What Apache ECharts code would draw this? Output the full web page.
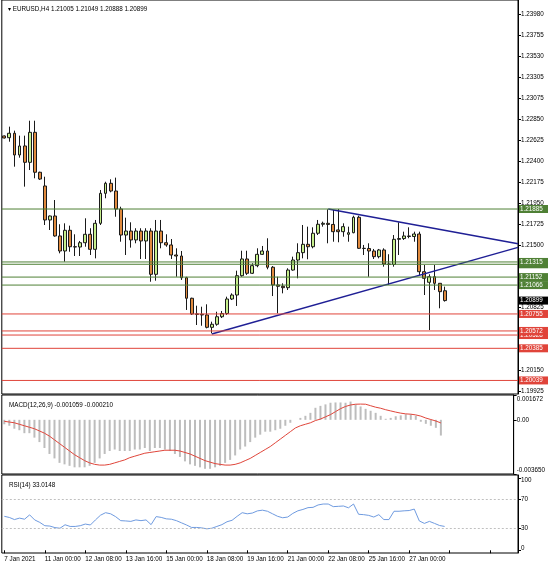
<!DOCTYPE html>
<html>
<head>
<meta charset="utf-8">
<script src="https://cdn.jsdelivr.net/npm/echarts@6/dist/echarts.min.js"></script>
<style>
  html, body { margin: 0; padding: 0; background: #fff; }
  #chart { width: 548px; height: 566px; }
</style>
</head>
<body>
<div id="chart"></div>
<script>
// EURUSD H4, bars from 7 Jan 16:00 to 28 Jan 04:00
const opens = [1.22672,1.22653,1.22701,1.22467,1.22564,1.22388,1.22711,1.22281,1.22133,1.21767,
  1.21810,1.21595,1.21433,1.21656,1.21479,1.21476,1.21522,1.21613,1.21451,1.21731,
  1.22054,1.22162,1.22079,1.21885,1.21605,1.21648,1.21552,1.21648,1.21541,1.21648,
  1.21182,1.21648,1.21522,1.21498,1.21390,1.21379,1.21145,1.20924,1.20755,1.20751,
  1.20744,1.20611,1.20644,1.20725,1.20760,1.20916,1.20959,1.21167,1.21347,1.21193,
  1.21275,1.21397,1.21433,1.21258,1.21067,1.21053,1.21038,1.21228,1.21336,1.21415,
  1.21505,1.21479,1.21624,1.21721,1.21731,1.21719,1.21660,1.21641,1.21613,1.21630,
  1.21796,1.21462,1.21460,1.21433,1.21372,1.21444,1.21293,1.21288,1.21559,1.21567,
  1.21595,1.21589,1.21616,1.21210,1.21096,1.21156,1.21085,1.21005];
const highs = [1.22677,1.22772,1.22729,1.22675,1.22675,1.22836,1.22836,1.22287,1.22233,1.21815,
  1.21982,1.21721,1.21731,1.21706,1.21613,1.21541,1.21785,1.21678,1.21767,1.22090,
  1.22179,1.22205,1.22223,1.21910,1.21792,1.21742,1.21678,1.21678,1.21678,1.21678,
  1.21767,1.21767,1.21613,1.21562,1.21462,1.21433,1.21156,1.20930,1.20844,1.20833,
  1.20859,1.20672,1.20779,1.20787,1.20941,1.20977,1.21221,1.21436,1.21436,1.21301,
  1.21462,1.21487,1.21570,1.21271,1.21156,1.21085,1.21247,1.21372,1.21516,1.21713,
  1.21695,1.21688,1.21767,1.21749,1.21882,1.21875,1.21885,1.21731,1.21695,1.21813,
  1.21813,1.21498,1.21516,1.21455,1.21455,1.21462,1.21398,1.21605,1.21742,1.21641,
  1.21688,1.21641,1.21641,1.21282,1.21182,1.21282,1.21085,1.21049];
const lows = [1.22645,1.22610,1.22341,1.22438,1.22126,1.22305,1.22216,1.22198,1.21713,1.21659,
  1.21587,1.21408,1.21318,1.21425,1.21379,1.21379,1.21479,1.21390,1.21354,1.21713,
  1.22001,1.22065,1.21802,1.21533,1.21390,1.21469,1.21516,1.21347,1.21347,1.21102,
  1.21113,1.21462,1.21479,1.21347,1.21156,1.21121,1.20798,1.20744,1.20636,1.20628,
  1.20600,1.20547,1.20628,1.20711,1.20744,1.20905,1.20841,1.21156,1.21175,1.21185,
  1.21258,1.21390,1.21236,1.20948,1.20762,1.20977,1.21013,1.21221,1.21139,1.21354,
  1.21344,1.21462,1.21605,1.21695,1.21516,1.21533,1.21527,1.21587,1.21533,1.21624,
  1.21455,1.21390,1.21156,1.21347,1.21354,1.21264,1.21067,1.21264,1.21390,1.21552,
  1.21570,1.21533,1.21175,1.20959,1.20582,1.21013,1.20816,1.20888];
const closes = [1.22650,1.22701,1.22467,1.22564,1.22388,1.22711,1.22281,1.22208,1.21767,1.21810,
  1.21595,1.21433,1.21656,1.21479,1.21476,1.21522,1.21613,1.21451,1.21731,1.22054,
  1.22162,1.22079,1.21885,1.21605,1.21648,1.21552,1.21648,1.21541,1.21648,1.21182,
  1.21648,1.21522,1.21498,1.21390,1.21379,1.21145,1.20924,1.20755,1.20751,1.20744,
  1.20611,1.20644,1.20725,1.20760,1.20916,1.20959,1.21167,1.21347,1.21193,1.21275,
  1.21397,1.21433,1.21258,1.21067,1.21053,1.21038,1.21228,1.21336,1.21415,1.21505,
  1.21479,1.21624,1.21721,1.21731,1.21719,1.21641,1.21641,1.21695,1.21630,1.21796,
  1.21462,1.21460,1.21433,1.21372,1.21444,1.21293,1.21288,1.21559,1.21567,1.21595,
  1.21589,1.21616,1.21210,1.21139,1.21156,1.21085,1.20995,1.20899];

// MACD(12,26,9): main histogram and signal line
const macdMain = [-0.00030,-0.00040,-0.00060,-0.00070,-0.00090,-0.00090,-0.00120,-0.00150,-0.00190,-0.00230,
  -0.00260,-0.00290,-0.00300,-0.00310,-0.00320,-0.00320,-0.00320,-0.00310,-0.00290,-0.00260,
  -0.00230,-0.00210,-0.00200,-0.00210,-0.00210,-0.00210,-0.00200,-0.00200,-0.00190,-0.00210,
  -0.00190,-0.00190,-0.00200,-0.00210,-0.00230,-0.00250,-0.00280,-0.00300,-0.00310,-0.00320,
  -0.00330,-0.00330,-0.00320,-0.00310,-0.00290,-0.00270,-0.00240,-0.00200,-0.00180,-0.00150,
  -0.00120,-0.00100,-0.00080,-0.00080,-0.00070,-0.00060,-0.00040,-0.00020,0.00000,0.00013,
  0.00027,0.00047,0.00081,0.00094,0.00104,0.00115,0.00117,0.00117,0.00115,0.00123,
  0.00104,0.00090,0.00074,0.00061,0.00047,0.00027,0.00007,0.00013,0.00024,0.00030,
  0.00037,0.00037,0.00027,-0.00013,-0.00027,-0.00040,-0.00054,-0.001059];
const macdSignal = [-0.00010,-0.00015,-0.00020,-0.00030,-0.00040,-0.00050,-0.00060,-0.00075,-0.00090,-0.00110,
  -0.00135,-0.00160,-0.00185,-0.00210,-0.00235,-0.00255,-0.00275,-0.00290,-0.00300,-0.00305,
  -0.00305,-0.00300,-0.00290,-0.00280,-0.00270,-0.00255,-0.00245,-0.00235,-0.00225,-0.00220,
  -0.00215,-0.00210,-0.00205,-0.00205,-0.00205,-0.00210,-0.00220,-0.00230,-0.00245,-0.00260,
  -0.00275,-0.00285,-0.00295,-0.00300,-0.00305,-0.00305,-0.00300,-0.00290,-0.00275,-0.00260,
  -0.00240,-0.00220,-0.00200,-0.00180,-0.00155,-0.00130,-0.00105,-0.00080,-0.00055,-0.00040,
  -0.00030,-0.00020,-0.00005,0.00005,0.00020,0.00035,0.00055,0.00075,0.00090,0.00100,
  0.00105,0.00106,0.00105,0.00095,0.00085,0.00078,0.00068,0.00060,0.00052,0.00045,
  0.00040,0.00038,0.00033,0.00025,0.00012,0.00002,-0.00008,-0.00021];

// RSI(14)
const rsiValues = [47,45.4,42.5,44.5,43,49,42,38.6,34,33.5,
  31.4,30.5,35.3,33,33,34,36.3,35,42,48.5,
  52,50.5,46.5,41,40.6,40,42,41,42,35.5,
  46.6,45.5,43.5,43,41,38,35,31.6,31.6,31,
  29.7,30.5,33,35.5,39.5,41.5,47,52,50.5,51.5,
  54.5,55.5,54,50.5,47,45,46,51,54.6,56.5,
  59,59.4,62.7,64,64,60.4,60.8,61.3,58.8,64,
  49.8,49.3,48.3,46,49.3,42.5,42.5,54,54,54.6,
  55,57,40.6,37.2,40,37.2,34.3,33.0148];

const timeLabels = ['7 Jan 2021','11 Jan 00:00','12 Jan 08:00','13 Jan 16:00','15 Jan 00:00',
  '18 Jan 08:00','19 Jan 16:00','21 Jan 00:00','22 Jan 08:00','25 Jan 16:00','27 Jan 00:00'];
const priceTicks = [1.23980,1.23755,1.23530,1.23305,1.23075,1.22850,1.22625,1.22400,1.22175,
  1.21950,1.21725,1.21500,1.20825,1.20150,1.19925];
const macdTicks = [0.001672, 0, -0.00365];
const rsiTicks = [100, 70, 30, 0];
const rsiLevels = [70, 30];

// support / resistance lines drawn on the chart
const greenLevels = [1.21885, 1.21290, 1.21315, 1.21152, 1.21066];
const redLevels = [1.20755, 1.20528, 1.20572, 1.20385, 1.20039];
const bidPrice = 1.20899;
// trend lines [bar index, price]
const trendDown = [[64, 1.21885], [101.5, 1.21512]];
const trendUp = [[41, 1.20540], [101.5, 1.21472]];

const barCount = 102; // chart shift leaves empty bars on the right

const FONT = 'Liberation Sans';
const FS = 6.3;
const GREEN = '#4f8035';
const RED = '#e0443a';

let categories = [];
for (let i = 0; i < barCount; i++) {
  categories.push(i % 8 === 0 && timeLabels[i / 8] ? timeLabels[i / 8] : '');
}
let candles = opens.map((o, i) => [o, closes[i], lows[i], highs[i]]);

// each level is a flat line across the chart with its price box on the scale
function levelSeries(v, color, lineOpacity) {
  return {
    type: 'line', xAxisIndex: 3, yAxisIndex: 0, symbol: 'none', silent: true,
    data: [[-0.5, v], [barCount - 0.5, v]],
    lineStyle: {color: color, width: 1, opacity: lineOpacity},
    endLabel: {
      show: true, distance: 1, formatter: v.toFixed(5),
      backgroundColor: color, color: '#fff',
      fontFamily: FONT, fontSize: FS, padding: [1, 6, 1, 1]
    }
  };
}

function edgeLabels(minV, maxV, digits) {
  return function (v) {
    let s = digits == null ? String(v) : (v === 0 ? '0.00' : v.toFixed(digits));
    if (v === maxV) return '{top|' + s + '}';
    if (v === minV) return '{bot|' + s + '}';
    return s;
  };
}

const axisText = {fontFamily: FONT, fontSize: FS, color: '#000'};
const gridBase = {left: 1.8, right: 30, show: true, borderColor: '#000', borderWidth: 1, backgroundColor: '#fff'};
const yLine = {show: true, onZero: false, lineStyle: {color: '#000'}};

let series = [
  {
    type: 'candlestick', xAxisIndex: 0, yAxisIndex: 0, data: candles, barWidth: 3.4,
    itemStyle: {color: '#c6ef8c', color0: '#e08a3e', borderColor: '#1a1a1a', borderColor0: '#1a1a1a', borderWidth: 1}
  },
  {type: 'line', xAxisIndex: 3, yAxisIndex: 0, data: trendDown, symbol: 'none',
    lineStyle: {color: '#1f1f95', width: 1.5}},
  {type: 'line', xAxisIndex: 3, yAxisIndex: 0, data: trendUp, symbol: 'none',
    lineStyle: {color: '#1f1f95', width: 1.5}},
  {type: 'bar', xAxisIndex: 1, yAxisIndex: 1, data: macdMain, barWidth: 2,
    itemStyle: {color: '#bdbdbd'}},
  {type: 'line', xAxisIndex: 1, yAxisIndex: 1, data: macdSignal, symbol: 'none',
    lineStyle: {color: '#e0453a', width: 1}},
  {type: 'line', xAxisIndex: 2, yAxisIndex: 2, data: rsiValues, symbol: 'none',
    lineStyle: {color: '#6f9be0', width: 1},
    markLine: {silent: true, symbol: 'none', label: {show: false},
      lineStyle: {color: '#c0c0c0', type: [2, 2], width: 1},
      data: rsiLevels.map(v => ({yAxis: v}))}}
];
greenLevels.forEach(v => series.push(levelSeries(v, GREEN, 1)));
redLevels.forEach(v => series.push(levelSeries(v, RED, 1)));
series.push(levelSeries(bidPrice, '#000', 0));

let chart = echarts.init(document.getElementById('chart'), null, {renderer: 'canvas'});
chart.setOption({
  animation: false,
  backgroundColor: '#fff',
  title: [
    {text: '\u25BE EURUSD,H4 1.21005 1.21049 1.20888 1.20899', left: 3, top: 1,
      textStyle: {fontFamily: FONT, fontSize: FS, fontWeight: 'normal', color: '#000'}},
    {text: 'MACD(12,26,9) -0.001059 -0.000210', left: 4, top: 397,
      textStyle: {fontFamily: FONT, fontSize: FS, fontWeight: 'normal', color: '#000'}},
    {text: 'RSI(14) 33.0148', left: 4, top: 477,
      textStyle: {fontFamily: FONT, fontSize: FS, fontWeight: 'normal', color: '#000'}}
  ],
  grid: [
    Object.assign({top: 0, height: 394}, gridBase),
    Object.assign({top: 395, height: 79}, gridBase),
    Object.assign({top: 475, height: 78}, gridBase)
  ],
  xAxis: [
    {type: 'category', gridIndex: 0, data: categories, boundaryGap: true,
      axisLine: {show: false}, axisTick: {show: false}, axisLabel: {show: false}},
    {type: 'category', gridIndex: 1, data: categories, boundaryGap: true,
      axisLine: {show: false}, axisTick: {show: false}, axisLabel: {show: false}},
    {type: 'category', gridIndex: 2, data: categories, boundaryGap: true,
      axisLine: {show: false},
      axisTick: {show: true, interval: 7, alignWithLabel: true, length: 3, lineStyle: {color: '#000'}},
      axisLabel: Object.assign({interval: 7, align: 'left', margin: 3}, axisText)},
    {type: 'value', gridIndex: 0, min: -0.5, max: barCount - 0.5, show: false, splitLine: {show: false}}
  ],
  yAxis: [
    {type: 'value', gridIndex: 0, position: 'right', min: 1.19893, max: 1.24136,
      splitLine: {show: false}, axisLine: yLine,
      axisTick: {show: true, length: 3, customValues: priceTicks, lineStyle: {color: '#000'}},
      axisLabel: Object.assign({customValues: priceTicks, margin: 3, formatter: v => v.toFixed(5)}, axisText)},
    {type: 'value', gridIndex: 1, position: 'right', min: -0.00365, max: 0.001672,
      splitLine: {show: false}, axisLine: yLine,
      axisTick: {show: true, length: 3, customValues: macdTicks, lineStyle: {color: '#000'}},
      axisLabel: Object.assign({customValues: macdTicks, margin: 3,
        formatter: edgeLabels(-0.00365, 0.001672, 6),
        rich: {top: {fontFamily: FONT, fontSize: FS, padding: [8, 0, 0, 0]},
               bot: {fontFamily: FONT, fontSize: FS, padding: [0, 0, 8, 0]}}}, axisText)},
    {type: 'value', gridIndex: 2, position: 'right', min: -3.74, max: 104.15,
      splitLine: {show: false}, axisLine: yLine,
      axisTick: {show: true, length: 3, customValues: rsiTicks, lineStyle: {color: '#000'}},
      axisLabel: Object.assign({customValues: rsiTicks, margin: 3,
        formatter: edgeLabels(0, 100, null),
        rich: {top: {fontFamily: FONT, fontSize: FS, padding: [5, 0, 0, 0]},
               bot: {fontFamily: FONT, fontSize: FS, padding: [0, 0, 4, 0]}}}, axisText)}
  ],
  series: series
});
</script>
</body>
</html>
